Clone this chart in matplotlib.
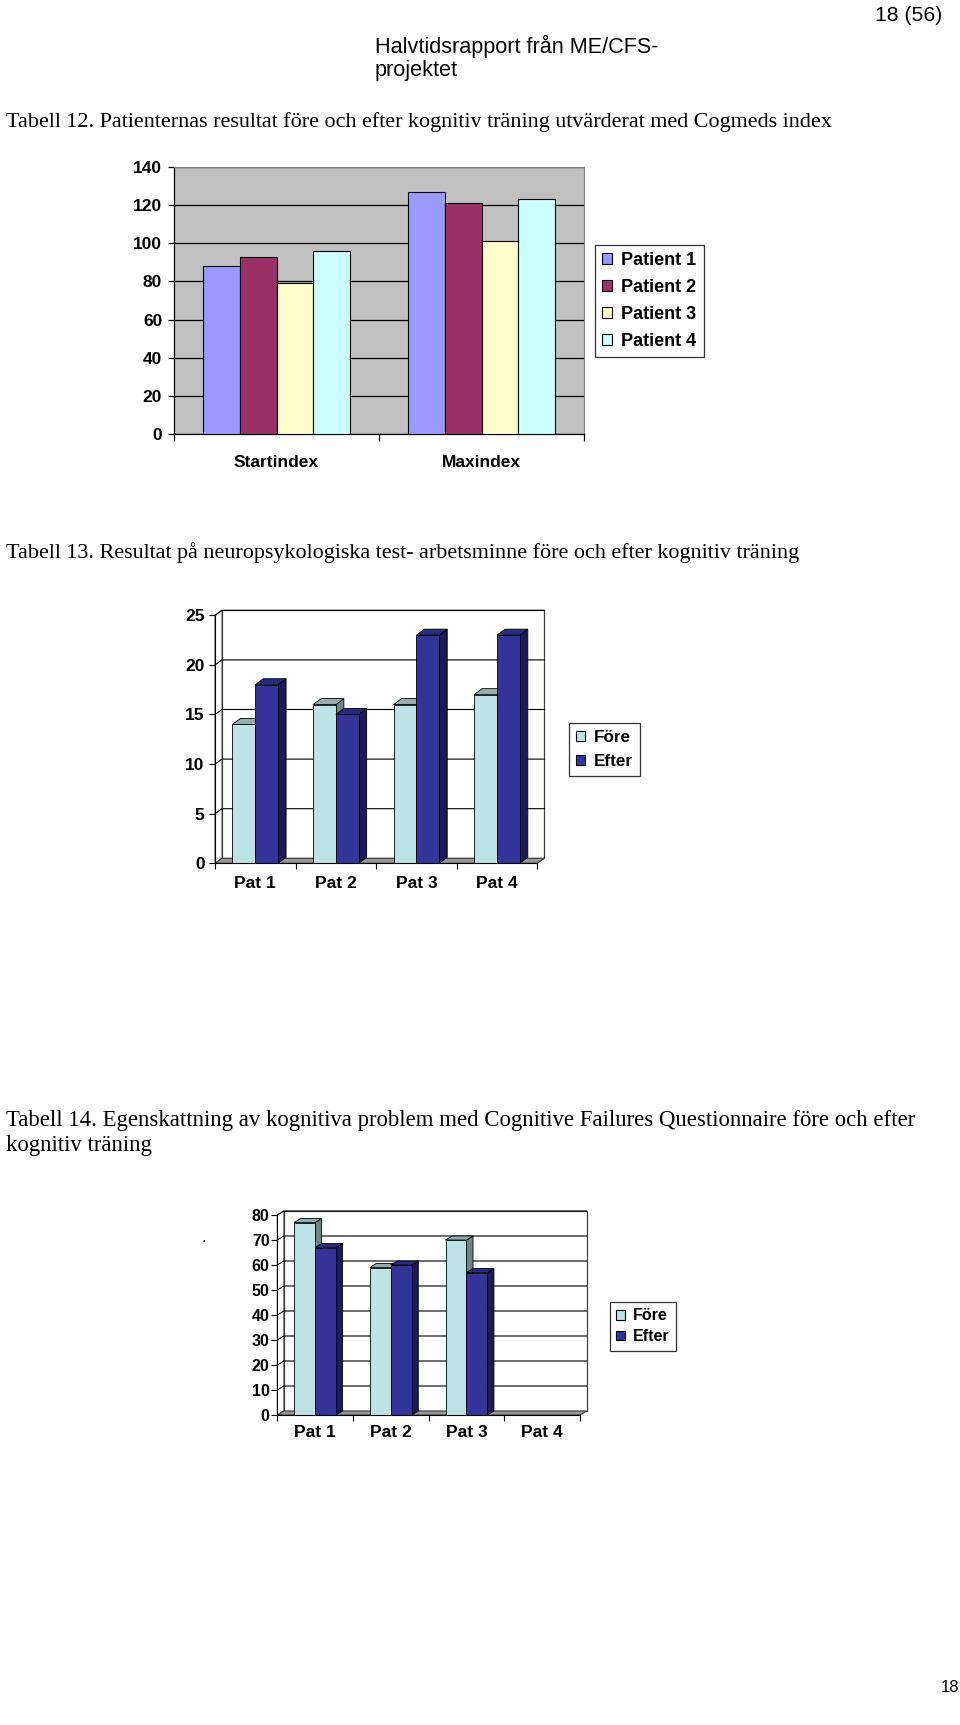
import numpy as np
import matplotlib
matplotlib.use('Agg')
import matplotlib.pyplot as plt
from matplotlib.patches import Polygon, Patch

W, H = 960, 1725

# ---- data ----
idx_categories = ['Startindex', 'Maxindex']
patients = ['Patient 1', 'Patient 2', 'Patient 3', 'Patient 4']
patient_values = [[88, 127], [93, 121], [79, 101], [96, 123]]
patient_colors = ['#9999FF', '#993366', '#FFFFCC', '#CCFFFF']

pat_labels = ['Pat 1', 'Pat 2', 'Pat 3', 'Pat 4']
series_names = ['Före', 'Efter']
wm_fore = [14, 16, 16, 17]
wm_efter = [18, 15, 23, 23]

cfq_fore = [77, 59, 70, None]
cfq_efter = [67, 60, 57, None]

# front, top, side
fore_cols = ['#BEE3E5', '#97AEAE', '#6F8585']
efter_cols = ['#333399', '#2A2A80', '#1C1C55']

plt.rcParams['font.family'] = ['Liberation Sans', 'DejaVu Sans']

fig = plt.figure(figsize=(W / 100, H / 100), dpi=100)


def px_axes(x0, y0, x1, y1):
    return fig.add_axes([x0 / W, 1 - y1 / H, (x1 - x0) / W, (y1 - y0) / H])


def legend_box(ax, labels, colors, x, y, fs, spacing):
    handles = [Patch(facecolor=c, edgecolor='black', linewidth=0.8, label=l)
               for l, c in zip(labels, colors)]
    leg = ax.legend(handles=handles, loc='upper left', bbox_to_anchor=(x / W, 1 - y / H),
                    bbox_transform=fig.transFigure, borderaxespad=0, fancybox=False,
                    handlelength=0.55, handleheight=0.55, handletextpad=0.5,
                    labelspacing=spacing, borderpad=0.4, prop={'weight': 'bold', 'size': fs})
    leg.get_frame().set_edgecolor('black')
    leg.get_frame().set_linewidth(0.9)
    return leg


# ---------- chart 1: Cogmed index ----------
ax1 = px_axes(174, 167, 584, 434)
ax1.set_facecolor('#C0C0C0')
ax1.set_xlim(0, 2)
ax1.set_ylim(0, 140)
ax1.set_axisbelow(True)
ax1.yaxis.grid(True, color='black', lw=0.9)
bw = 0.18
xc = np.arange(len(idx_categories)) + 0.5
for i, (name, vals) in enumerate(zip(patients, patient_values)):
    ax1.bar(xc - 2 * bw + i * bw, vals, bw, align='edge', color=patient_colors[i],
            edgecolor='black', linewidth=0.8, zorder=3)
ax1.set_yticks(np.arange(0, 141, 20), labels=[str(v) for v in range(0, 141, 20)],
               fontsize=12.5, fontweight='bold')
ax1.set_xticks([0, 1, 2], labels=['', '', ''])
ax1.set_xticks(xc, labels=idx_categories, minor=True, fontsize=12.5, fontweight='bold')
ax1.tick_params(axis='y', length=4.5, width=0.9, pad=4)
ax1.tick_params(axis='x', which='major', length=5, width=0.9)
ax1.tick_params(axis='x', which='minor', length=0, pad=15)
for s in ('top', 'right'):
    ax1.spines[s].set_color('#808080')
for s in ('left', 'bottom'):
    ax1.spines[s].set_linewidth(0.9)
legend_box(ax1, patients, patient_colors, 595, 245, 13, 0.55)


# ---------- 3D-look column charts ----------
def bar3d_chart(ax, fore, efter, ymax, ystep, wall_d, bar_d, width, tick_fs, lab_pad, ytick_pad):
    ax.set_xlim(0, 4)
    ax.set_ylim(0, ymax)
    ax.set_facecolor('none')
    bb = ax.get_position()
    xs = bb.width * W / 4
    ys = bb.height * H / ymax
    wdx, wdy = wall_d[0] / xs, wall_d[1] / ys
    bdx, bdy = bar_d[0] / xs, bar_d[1] / ys
    # side wall and back wall
    ax.add_patch(Polygon([(0, 0), (wdx, wdy), (wdx, ymax + wdy), (0, ymax)], closed=True,
                         fc='white', ec='#606060', lw=0.8, clip_on=False, zorder=1))
    ax.add_patch(Polygon([(wdx, wdy), (4 + wdx, wdy), (4 + wdx, ymax + wdy), (wdx, ymax + wdy)],
                         closed=True, fc='white', ec='#404040', lw=0.9, clip_on=False, zorder=1))
    for v in np.arange(ystep, ymax + ystep / 2, ystep):
        ax.plot([0, wdx, 4 + wdx], [v, v + wdy, v + wdy], color='black', lw=0.8,
                clip_on=False, zorder=2)
    # floor
    ax.add_patch(Polygon([(0, 0), (4, 0), (4 + wdx, wdy), (wdx, wdy)], closed=True,
                         fc='#969696', ec='#404040', lw=0.8, clip_on=False, zorder=3))
    xcat = np.arange(4) + 0.5
    for i in range(4):
        for vals, off, cols in ((fore, -width, fore_cols), (efter, 0.0, efter_cols)):
            h = vals[i]
            if h is None:
                continue
            x0 = xcat[i] + off
            x1 = x0 + width
            ax.add_patch(Polygon([(x1, 0), (x1 + bdx, bdy), (x1 + bdx, h + bdy), (x1, h)],
                                 closed=True, fc=cols[2], ec='black', lw=0.6,
                                 clip_on=False, zorder=4))
            ax.add_patch(Polygon([(x0, h), (x1, h), (x1 + bdx, h + bdy), (x0 + bdx, h + bdy)],
                                 closed=True, fc=cols[1], ec='black', lw=0.6,
                                 clip_on=False, zorder=4))
            ax.bar(x0, h, width, align='edge', color=cols[0], edgecolor='black',
                   linewidth=0.6, zorder=4)
    ticks = np.arange(0, ymax + 1, ystep)
    ax.set_yticks(ticks, labels=[str(int(t)) for t in ticks], fontsize=tick_fs,
                  fontweight='bold')
    ax.set_xticks([0, 1, 2, 3, 4], labels=[''] * 5)
    ax.set_xticks(xcat, labels=pat_labels, minor=True, fontsize=12.5, fontweight='bold')
    ax.tick_params(axis='y', length=4, width=0.8, pad=ytick_pad)
    ax.tick_params(axis='x', which='major', length=4, width=0.8)
    ax.tick_params(axis='x', which='minor', length=0, pad=lab_pad)
    for s in ('top', 'right'):
        ax.spines[s].set_visible(False)
    for s in ('left', 'bottom'):
        ax.spines[s].set_linewidth(0.8)
        ax.spines[s].set_zorder(5)


ax2 = px_axes(215, 615.3, 537.3, 863.3)
bar3d_chart(ax2, wm_fore, wm_efter, 25, 5, (7, 5), (8, 6), 0.283, 12.5, 9, 3.5)
legend_box(ax2, series_names, [fore_cols[0], efter_cols[0]], 569, 723, 12.3, 0.55)

ax3 = px_axes(277.3, 1215, 580, 1415)
bar3d_chart(ax3, cfq_fore, cfq_efter, 80, 10, (6.5, 4), (6.5, 4), 0.277, 11.5, 7, 1.5)
legend_box(ax3, series_names, [fore_cols[0], efter_cols[0]], 610, 1302, 11.5, 0.36)

# ---------- page text ----------
serif = ['Liberation Serif', 'DejaVu Serif']
sans = ['Liberation Sans', 'DejaVu Sans']
fig.text(942 / W, 1 - 15.4 / H, '18 (56)', family=sans, fontsize=15.3, ha='right', va='center')
fig.text(375 / W, 1 - 46.2 / H, 'Halvtidsrapport från ME/CFS-', family=sans, fontsize=15.6,
         va='center')
fig.text(375 / W, 1 - 70.4 / H, 'projektet', family=sans, fontsize=15.6, va='center')
fig.text(5.5 / W, 1 - 122 / H,
         'Tabell 12. Patienternas resultat före och efter kognitiv träning utvärderat med Cogmeds index',
         family=serif, fontsize=15.9, va='center')
fig.text(5.5 / W, 1 - 553 / H,
         'Tabell 13. Resultat på neuropsykologiska test- arbetsminne före och efter kognitiv träning',
         family=serif, fontsize=15.9, va='center')
fig.text(5.5 / W, 1 - 1120.6 / H,
         'Tabell 14. Egenskattning av kognitiva problem med Cognitive Failures Questionnaire före och efter',
         family=serif, fontsize=16.4, va='center')
fig.text(5.5 / W, 1 - 1146 / H, 'kognitiv träning', family=serif, fontsize=16.4, va='center')
fig.text(203.4 / W, 1 - 1237 / H, '.', fontsize=12, ha='center', va='center')
fig.text(959 / W, 1 - 1688 / H, '18', family=sans, fontsize=12, ha='right', va='center')

fig.savefig('out.png', dpi=100)
